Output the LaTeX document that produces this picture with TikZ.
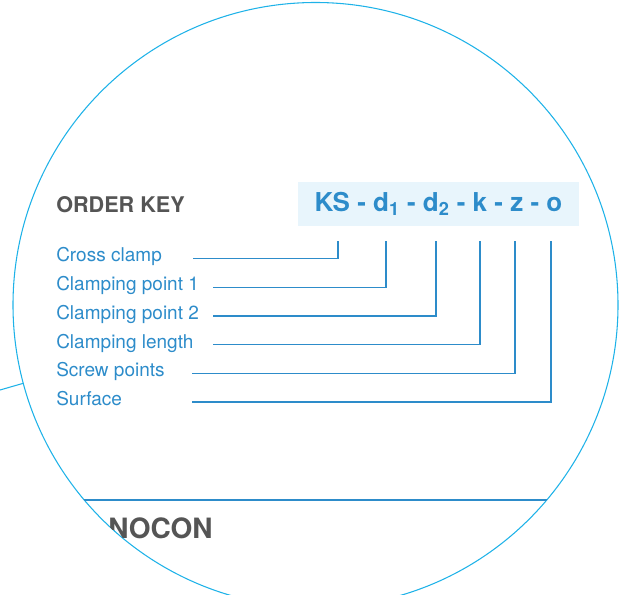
\documentclass[tikz,border=0pt]{standalone}
\usepackage{fontspec}
\setmainfont{TeX Gyre Heros}
\usetikzlibrary{positioning}
\definecolor{lensblue}{RGB}{30,178,232}
\definecolor{keyblue}{RGB}{45,140,202}
\definecolor{keyfill}{RGB}{232,245,252}
\definecolor{keygray}{RGB}{85,85,85}

\begin{document}
\begin{tikzpicture}[x=0.75pt,y=-0.75pt,
    keytext/.style={anchor=base west, inner sep=0pt, text=keyblue, font=\fontsize{14.25pt}{17pt}\selectfont},
    keyline/.style={draw=keyblue, line width=0.9pt}]

    \useasboundingbox (0,0) rectangle (621,595);

    % lens
    \node[circle, draw=lensblue, line width=0.8pt, minimum size=453.75pt, inner sep=0pt, outer sep=0pt]
        (lens) at (315.5,305) {};
    \coordinate (edge) at (0,390);
    \draw[lensblue, line width=0.8pt] (edge) -- (lens.195);

    \node[anchor=base west, inner sep=0pt, text=keygray, font=\fontsize{16.2pt}{19pt}\selectfont\bfseries]
        (order) at (56,213) {ORDER KEY};
    \node[fill=keyfill, minimum width=210.75pt, minimum height=33pt, inner sep=0pt,
          text=keyblue, font=\fontsize{19.5pt}{23pt}\selectfont\bfseries]
        (code) at (438.5,204) {KS - d\textsubscript{1} - d\textsubscript{2} - k - z - o};

    \node[keytext] (cross) at (56,262) {Cross clamp};
    \node[keytext] (point1) at (56,290.7) {Clamping point 1};
    \node[keytext] (point2) at (56,319.4) {Clamping point 2};
    \node[keytext] (length) at (56,348.1) {Clamping length};
    \node[keytext] (screw) at (56,376.8) {Screw points};
    \node[keytext] (surface) at (56,405.5) {Surface};

    \coordinate (cKS) at (338,241);
    \coordinate (cd1) at (386,241);
    \coordinate (cd2) at (436,241);
    \coordinate (ck) at (480,241);
    \coordinate (cz) at (515,241);
    \coordinate (co) at (551,241);
    \coordinate (near) at (193,0);
    \coordinate (far) at (213,0);
    \coordinate (low) at (192,0);

    \draw[keyline] (cross.mid -| near) -| (cKS);
    \draw[keyline] (point1.mid -| far) -| (cd1);
    \draw[keyline] (point2.mid -| far) -| (cd2);
    \draw[keyline] (length.mid -| far) -| (ck);
    \draw[keyline] (screw.mid -| low) -| (cz);
    \draw[keyline] (surface.mid -| low) -| (co);

    \begin{scope}
        \clip (315.5,305) circle[radius=226.875pt];
        \draw[keyblue, line width=1pt] (0,500) -- (621,500);
        \node[anchor=base west, inner sep=0pt, text=keygray, font=\fontsize{21pt}{25pt}\selectfont\bfseries]
            (series) at (108,538) {NOCON};
    \end{scope}
\end{tikzpicture}
\end{document}
